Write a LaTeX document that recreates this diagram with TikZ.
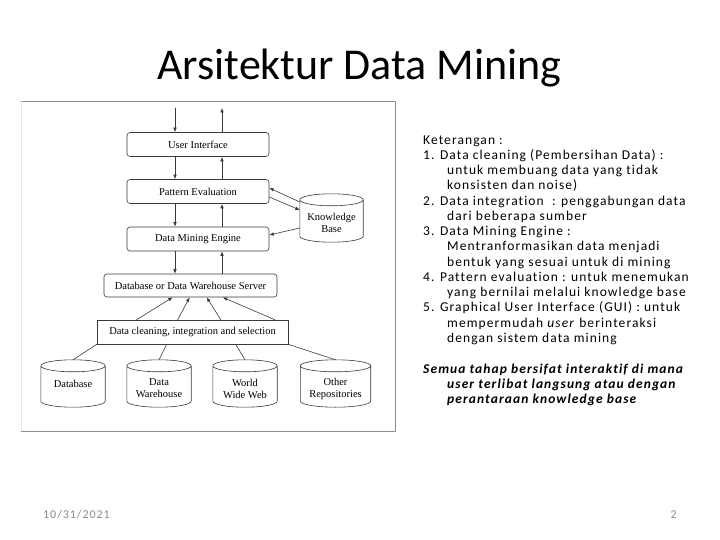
\documentclass[tikz,border=0pt]{standalone}
\usepackage{fontspec}
\setmainfont{Carlito}
\newfontfamily\diagfont{Liberation Serif}
\newfontfamily\slidefont[LetterSpace=8, Ligatures=NoCommon]{Carlito}
\usetikzlibrary{arrows.meta, calc}
\definecolor{linec}{HTML}{3A3A3A}
\definecolor{framec}{HTML}{8C8C8C}
\definecolor{footc}{HTML}{8A8A8A}

\begin{document}
\begin{tikzpicture}[
  x=1pt, y=-1pt, line cap=round, line join=round,
  arr/.style={draw=linec, line width=0.6pt, -{Latex[length=4.5pt, width=3.6pt]}},
  conn/.style={draw=linec, line width=0.6pt},
  stagebox/.style={draw=linec, line width=0.6pt, rounded corners=3pt, minimum width=142pt,
    minimum height=24pt, inner sep=1pt, font=\diagfont\fontsize{10.5}{12}\selectfont},
  store/.style={rectangle, minimum width=64pt, minimum height=47pt, inner sep=0pt},
  storetext/.style={inner sep=0pt, align=center, font=\diagfont\fontsize{10.5}{12}\selectfont},
  legend/.style={anchor=base west, inner sep=0pt, font=\slidefont\fontsize{13.5}{15}\selectfont},
  foot/.style={inner sep=0pt, text=footc, font=\slidefont\fontsize{12}{13}\selectfont},
]
\path[use as bounding box] (0,0) rectangle (720,540);

% Title
\node[anchor=base, inner sep=0pt, font=\fontsize{44}{50}\selectfont] (title) at (359.5,80) {Arsitektur Data Mining};

% Frame
\draw[framec, line width=1pt] (21,101.5) -- (395,101.5) -- (395,431) -- (21,431);
\draw[gray!20, line width=0.5pt] (21,101.5) -- (21,431);

% Stages
\node[stagebox] (ui)  at (198,144.5) {User Interface};
\node[stagebox] (pe)  at (198,191.5) {Pattern Evaluation};
\node[stagebox] (dme) at (198,239)   {Data Mining Engine};
\node[stagebox, minimum width=173pt, minimum height=23pt] (srv) at (190.5,285.5) {Database or Data Warehouse Server};
\node[stagebox, rounded corners=0pt, minimum width=191pt] (clean) at (192.5,332) {Data cleaning, integration and selection};

% Stores (cylinders)
\node[store, minimum width=63pt, minimum height=48pt] (kb) at (331.5,218) {};
\node[store] (db)  at (73,383.5)  {};
\node[store] (dw)  at (159,383.5) {};
\node[store] (www) at (245,383.5) {};
\node[store, minimum width=70pt] (oth) at (335.5,383.5) {};
\foreach \s in {kb, db, dw, www, oth} {
  \draw[conn] let \p1=(\s.north west), \p2=(\s.south east), \n1={abs(\x2-\x1)/2} in
    ($(\s.north west)+(0,6)$) -- ($(\s.south west)+(0,-6)$)
    arc[start angle=180, end angle=360, x radius=\n1, y radius=6pt]
    -- ($(\s.north east)+(0,6)$)
    ($(\s.north)+(0,6)$) ellipse[x radius=\n1, y radius=6pt];
}
\foreach \s/\txt/\dy in {kb/{Knowledge\\Base}/-5, db/{Database}/0, dw/{Data\\Warehouse}/-5,
    www/{World\\Wide Web}/-5, oth/{Other\\Repositories}/-5} {
  \node[storetext] (\s-label) at ([yshift=\dy pt]\s.center) {\txt};
}

% Up and down
\coordinate (lin)  at (175,108);
\coordinate (rout) at (222,108);
\draw[arr] (lin) -- (ui.north -| lin);
\draw[arr] (ui.north -| rout) -- (rout);
\foreach \a/\b in {ui/pe, pe/dme, dme/srv} {
  \draw[arr] (\a.south -| lin) -- (\b.north -| lin);
  \draw[arr] (\b.north -| rout) -- (\a.south -| rout);
}

% Knowledge base
\draw[arr] ([yshift=16pt]kb.west) -- ([yshift=3.5pt]pe.east);
\draw[arr] ([yshift=-5.5pt]pe.east) -- ([yshift=8pt]kb.west);
\draw[arr] ([yshift=-10pt]kb.west) -- ([yshift=4pt]dme.east);

% Sources
\foreach \s/\e in {40/69, 81/86, 124/103, 178/119} {
  \draw[arr] ([xshift=\s pt]clean.north west) -- ([xshift=\e pt]srv.south west);
}
\draw[conn] (clean.south west) -- (db.north);
\draw[conn] ([xshift=70pt]clean.south west) -- (dw.north);
\draw[conn] ([xshift=139pt]clean.south west) -- (www.north);
\draw[conn] (clean.south east) -- (oth.north);

% Keterangan
\foreach \ix/\txt [count=\i] in {
  0/{Keterangan :},
  0/{1. Data cleaning (Pembersihan Data) :},
  24/{untuk membuang data yang tidak},
  24/{konsisten dan noise)},
  0/{2. Data integration\ \ : penggabungan data},
  24/{dari beberapa sumber},
  0/{3. Data Mining Engine :},
  24/{Mentranformasikan data menjadi},
  24/{bentuk yang sesuai untuk di mining},
  0/{4. Pattern evaluation : untuk menemukan},
  24/{yang bernilai melalui knowledge base},
  0/{5. Graphical User Interface (GUI) : untuk},
  24/{mempermudah \textit{user} berinteraksi},
  24/{dengan sistem data mining}} {
  \node[legend] (ket\i) at (423+\ix, 144.3+15.23*\i-15.23) {\txt};
}
\foreach \ix/\txt [count=\i] in {
  0/{Semua tahap bersifat interaktif di mana},
  24/{user terlibat langsung atau dengan},
  24/{perantaraan knowledge base}} {
  \node[legend, font=\slidefont\bfseries\itshape\fontsize{13.5}{15}\selectfont] (sem\i) at (423+\ix, 373.3+15.2*\i-15.2) {\txt};
}

% Footer
\node[foot, anchor=base west] (date) at (43,518.5) {10/31/2021};
\node[foot, anchor=base east] (pgno) at (677,518.5) {2};
\end{tikzpicture}
\end{document}
